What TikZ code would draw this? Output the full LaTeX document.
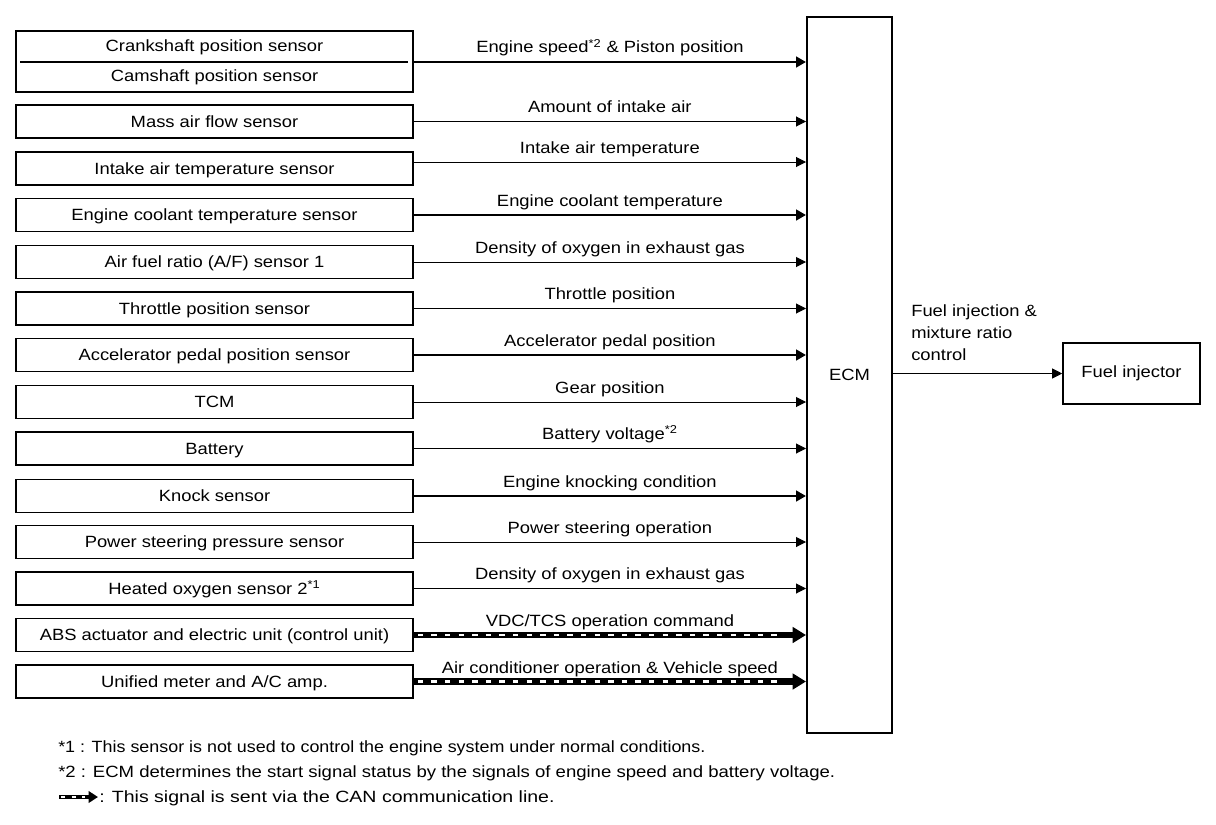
\documentclass[tikz,border=0pt]{standalone}
\usepackage{fontspec}
\setmainfont{Liberation Sans}[FakeStretch=1.13]
\newfontfamily\noteA{Liberation Sans}[FakeStretch=1.10]
\newfontfamily\noteB{Liberation Sans}[FakeStretch=1.14]
\newfontfamily\noteC{Liberation Sans}[FakeStretch=1.20]
\usetikzlibrary{arrows.meta,calc}
\begin{document}
\begin{tikzpicture}[x=0.75pt,y=-0.75pt,
  every node/.style={font=\fontsize{12.2pt}{14pt}\selectfont},
  sbox/.style={draw,line width=1.2pt,minimum width=297.75pt,minimum height=25pt,inner sep=0pt,text height=8.6pt,text depth=0pt},
  thinarr/.style={line width=0.75pt,-{Triangle[length=7.5pt,width=7.5pt]}},
  thickarr/.style={line width=2.2pt,-{Triangle[length=7.5pt,width=8pt]}},
  canarr/.style={line width=4.8pt,-{Triangle[length=10pt,width=11.5pt]}},
  candash/.style={white,line width=1.7pt,dash pattern=on 4pt off 6.2pt},
  lbl/.style={anchor=base,inner sep=0pt,yshift=6.75pt},
  note/.style={anchor=base west,inner sep=0pt}]
\useasboundingbox (0,0) rectangle (1216,824);
% ECM and injector
\node[draw,line width=1.5pt,minimum width=63.75pt,minimum height=537pt,inner sep=0pt] (ecm) at (849.5,375) {ECM};
\node[draw,line width=1.2pt,minimum width=102.75pt,minimum height=45.75pt,inner sep=0pt] (fi) at (1131.5,373.5) {Fuel injector};
% first double box
\node[draw,line width=1.2pt,minimum width=297.75pt,minimum height=45.75pt,inner sep=0pt] (b1) at (214.5,61.5) {};
\node[inner sep=0pt,anchor=base] (crank) at (214.5,52) {Crankshaft position sensor};
\node[inner sep=0pt,anchor=base] (cam) at (214.5,82) {Camshaft position sensor};
\coordinate (dl) at (20,62);
\coordinate (dr) at (408,62);
\draw[line width=2pt] (dl) -- (dr);
% sensor boxes
\node[sbox] (b2) at (214.5,121.5) {Mass air flow sensor};
\node[sbox] (b3) at (214.5,168.5) {Intake air temperature sensor};
\node[sbox] (b4) at (214.5,215) {Engine coolant temperature sensor};
\node[sbox] (b5) at (214.5,262) {Air fuel ratio (A/F) sensor 1};
\node[sbox] (b6) at (214.5,308.5) {Throttle position sensor};
\node[sbox] (b7) at (214.5,355) {Accelerator pedal position sensor};
\node[sbox] (b8) at (214.5,402) {TCM};
\node[sbox] (b9) at (214.5,448.5) {Battery};
\node[sbox] (b10) at (214.5,496) {Knock sensor};
\node[sbox] (b11) at (214.5,542) {Power steering pressure sensor};
\node[sbox] (b12) at (214.5,588.5) {Heated oxygen sensor 2\textsuperscript{*1}};
\node[sbox] (b13) at (214.5,635) {ABS actuator and electric unit (control unit)};
\node[sbox] (b14) at (214.5,681.5) {Unified meter and A/C amp.};
% arrows
\draw[thickarr] (b1.east |- dr) -- node[lbl]{Engine speed\textsuperscript{*2} \& Piston position} (ecm.west |- dr);
\draw[thinarr] (b2.east) -- node[lbl]{Amount of intake air} (ecm.west |- b2.east);
\coordinate (a3) at ($(b3.east)+(0,-6.5)$);
\draw[thinarr] (a3) -- node[lbl]{Intake air temperature} (ecm.west |- a3);
\draw[thickarr] (b4.east) -- node[lbl]{Engine coolant temperature} (ecm.west |- b4.east);
\draw[thinarr] (b5.east) -- node[lbl]{Density of oxygen in exhaust gas} (ecm.west |- b5.east);
\draw[thinarr] (b6.east) -- node[lbl]{Throttle position} (ecm.west |- b6.east);
\draw[thickarr] (b7.east) -- node[lbl]{Accelerator pedal position} (ecm.west |- b7.east);
\draw[thinarr] (b8.east) -- node[lbl]{Gear position} (ecm.west |- b8.east);
\draw[thinarr] (b9.east) -- node[lbl]{Battery voltage\textsuperscript{*2}} (ecm.west |- b9.east);
\draw[thickarr] (b10.east) -- node[lbl]{Engine knocking condition} (ecm.west |- b10.east);
\draw[thinarr] (b11.east) -- node[lbl]{Power steering operation} (ecm.west |- b11.east);
\draw[thinarr] (b12.east) -- node[lbl]{Density of oxygen in exhaust gas} (ecm.west |- b12.east);
\draw[canarr] (b13.east) -- node[lbl,yshift=-0.5pt]{VDC/TCS operation command} (ecm.west |- b13.east);
\draw[candash] ($(b13.east)+(4,0)$) -- ($(ecm.west |- b13.east)+(-24,0)$);
\draw[canarr] (b14.east) -- node[lbl,yshift=-0.5pt]{Air conditioner operation \& Vehicle speed} (ecm.west |- b14.east);
\draw[candash] ($(b14.east)+(4,0)$) -- ($(ecm.west |- b14.east)+(-24,0)$);
% output
\draw[thinarr] (ecm.east |- fi.west) -- (fi.west);
\node[anchor=north west,align=left,inner sep=0pt,font=\fontsize{12.2pt}{16.5pt}\selectfont] (fil) at (911,304) {Fuel injection \&\\mixture ratio\\control};
% notes
\node[note,font=\noteA\fontsize{12.2pt}{14pt}\selectfont] (n1) at (58,752) {*1 : This sensor is not used to control the engine system under normal conditions.};
\node[note,font=\noteB\fontsize{12.2pt}{14pt}\selectfont] (n2) at (58,777) {*2 : ECM determines the start signal status by the signals of engine speed and battery voltage.};
\coordinate (ls) at (59,797);
\coordinate (le) at (98,797);
\draw[line width=3.2pt,-{Triangle[length=7pt,width=8.5pt]}] (ls) -- (le);
\draw[white,line width=1.1pt,dash pattern=on 3.2pt off 4.8pt] ($(ls)+(2,0)$) -- ($(le)+(-13,0)$);
\node[note,font=\noteC\fontsize{12.2pt}{14pt}\selectfont] (n3) at (99,802) {: This signal is sent via the CAN communication line.};
\end{tikzpicture}
\end{document}
